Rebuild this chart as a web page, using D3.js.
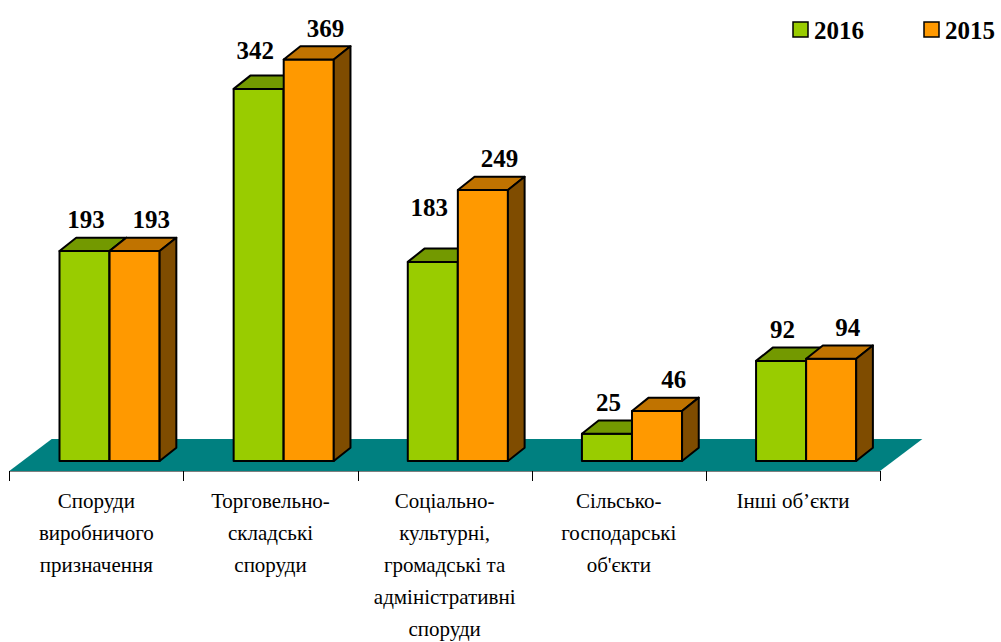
<!DOCTYPE html>
<html>
<head>
<meta charset="utf-8">
<script src="https://cdn.jsdelivr.net/npm/d3@7"></script>
<style>
  html, body { margin: 0; padding: 0; background: #fff; }
  svg { display: block; }
  .lbl { font-family: "Liberation Serif"; }
</style>
</head>
<body>
<svg id="chart" width="1001" height="642"></svg>
<script>
// ---- data ----
const categories = [
  "Споруди виробничого призначення",
  "Торговельно-складські споруди",
  "Соціально-культурні, громадські та адміністративні споруди",
  "Сільсько-господарські об'єкти",
  "Інші об’єкти"
];
const categoryLines = [
  ["Споруди", "виробничого", "призначення"],
  ["Торговельно-", "складські", "споруди"],
  ["Соціально-", "культурні,", "громадські та", "адміністративні", "споруди"],
  ["Сільсько-", "господарські", "об'єкти"],
  ["Інші об’єкти"]
];
const seriesNames = ["2016", "2015"];
const values2016 = [193, 342, 183, 25, 92];
const values2015 = [193, 369, 249, 46, 94];

// ---- layout / style ----
const base = 461;
const depth = { dx: 16.7, dy: -13.3 };
const floorFront = { y: 471, x0: 9.3, x1: 880 };
const floorBack = { y: 439, dx: 42.4 };
const colors = {
  "2016": { front: "#99CC00", top: "#739900", side: "#5C7A00" },
  "2015": { front: "#FF9900", top: "#C07300", side: "#7F4C00" }
};
const labelNudgeY = { "2016": [0, -7, -23, 0, 0], "2015": [0, 0, 0, 0, 0] };
const labelNudgeX = { "2016": [0, -5, -5, 0, 0], "2015": [0, 0, 0, 0, 0] };

const svg = d3.select("#chart");

const planeShiftX = 13.2;
const x0 = d3.scaleBand()
  .domain(categories)
  .range([floorFront.x0 + planeShiftX, floorFront.x1 + planeShiftX])
  .paddingInner(0.425)
  .paddingOuter(0.2125);
const x1 = d3.scaleBand().domain(seriesNames).range([0, x0.bandwidth()]);
const y = d3.scaleLinear().domain([0, 400]).range([base, base - 435.2]);
const xf = d3.scaleBand().domain(categories).range([floorFront.x0, floorFront.x1]);

// floor
svg.append("path")
  .attr("d", `M${floorFront.x0},${floorFront.y} L${floorFront.x0 + floorBack.dx},${floorBack.y} L${floorFront.x1 + floorBack.dx},${floorBack.y} L${floorFront.x1},${floorFront.y} Z`)
  .attr("fill", "#008080");

// axis line and ticks
const axisG = svg.append("g").attr("transform", `translate(0,${floorFront.y})`);
const tickPos = categories.map(c => xf(c)).concat([floorFront.x1]);
axisG.append("line")
  .attr("x1", floorFront.x0).attr("x2", floorFront.x1)
  .attr("y1", 0.5).attr("y2", 0.5)
  .attr("stroke", "#7f7f7f").attr("stroke-width", 1.2);
axisG.selectAll("line.tick").data(tickPos).join("line")
  .attr("class", "tick")
  .attr("x1", d => Math.round(d) + 0.5).attr("x2", d => Math.round(d) + 0.5)
  .attr("y1", 0).attr("y2", 10)
  .attr("stroke", "#000").attr("stroke-width", 1);

// category labels
const lineH = 32;
categories.forEach((c, i) => {
  const cx = xf(c) + xf.bandwidth() / 2;
  categoryLines[i].forEach((ln, j) => {
    svg.append("text")
      .attr("class", "lbl")
      .attr("x", cx)
      .attr("y", 508 + j * lineH)
      .attr("text-anchor", "middle")
      .attr("font-family", "Liberation Serif")
      .attr("font-size", 21)
      .attr("fill", "#000")
      .text(ln);
  });
});

// bars
const seriesValues = { "2016": values2016, "2015": values2015 };
const barsG = svg.append("g");
categories.forEach((c, i) => {
  seriesNames.forEach(s => {
    const v = seriesValues[s][i];
    const xl = x0(c) + x1(s);
    const xr = xl + x1.bandwidth();
    const yt = y(v);
    const yb = y(0);
    const g = barsG.append("g")
      .attr("stroke", "#000").attr("stroke-width", 2).attr("stroke-linejoin", "round");
    g.append("path")
      .attr("d", `M${xl},${yb} L${xl},${yt} L${xr},${yt} L${xr},${yb} Z`)
      .attr("fill", colors[s].front);
    g.append("path")
      .attr("d", `M${xl},${yt} L${xl + depth.dx},${yt + depth.dy} L${xr + depth.dx},${yt + depth.dy} L${xr},${yt} Z`)
      .attr("fill", colors[s].top);
    g.append("path")
      .attr("d", `M${xr},${yb} L${xr},${yt} L${xr + depth.dx},${yt + depth.dy} L${xr + depth.dx},${yb + depth.dy} Z`)
      .attr("fill", colors[s].side);
  });
});

// value labels
categories.forEach((c, i) => {
  seriesNames.forEach((s, k) => {
    const v = seriesValues[s][i];
    const cx = x0(c) + x1(s) + x1.bandwidth() / 2 + (k === 0 ? 1.5 : depth.dx);
    svg.append("text")
      .attr("class", "lbl")
      .attr("x", cx + labelNudgeX[s][i])
      .attr("y", y(v) - 23 + labelNudgeY[s][i])
      .attr("text-anchor", "middle")
      .attr("font-family", "Liberation Serif")
      .attr("font-weight", "bold")
      .attr("font-size", 25)
      .attr("fill", "#000")
      .text(String(v));
  });
});

// legend
const legendX = [793, 924];
seriesNames.forEach((s, k) => {
  svg.append("rect")
    .attr("x", legendX[k]).attr("y", 22)
    .attr("width", 15).attr("height", 15)
    .attr("fill", colors[s].front)
    .attr("stroke", "#000").attr("stroke-width", 1.5);
  svg.append("text")
    .attr("class", "lbl")
    .attr("x", legendX[k] + 21).attr("y", 39)
    .attr("font-family", "Liberation Serif")
    .attr("font-weight", "bold")
    .attr("font-size", 25)
    .attr("fill", "#000")
    .text(s);
});
</script>
</body>
</html>
